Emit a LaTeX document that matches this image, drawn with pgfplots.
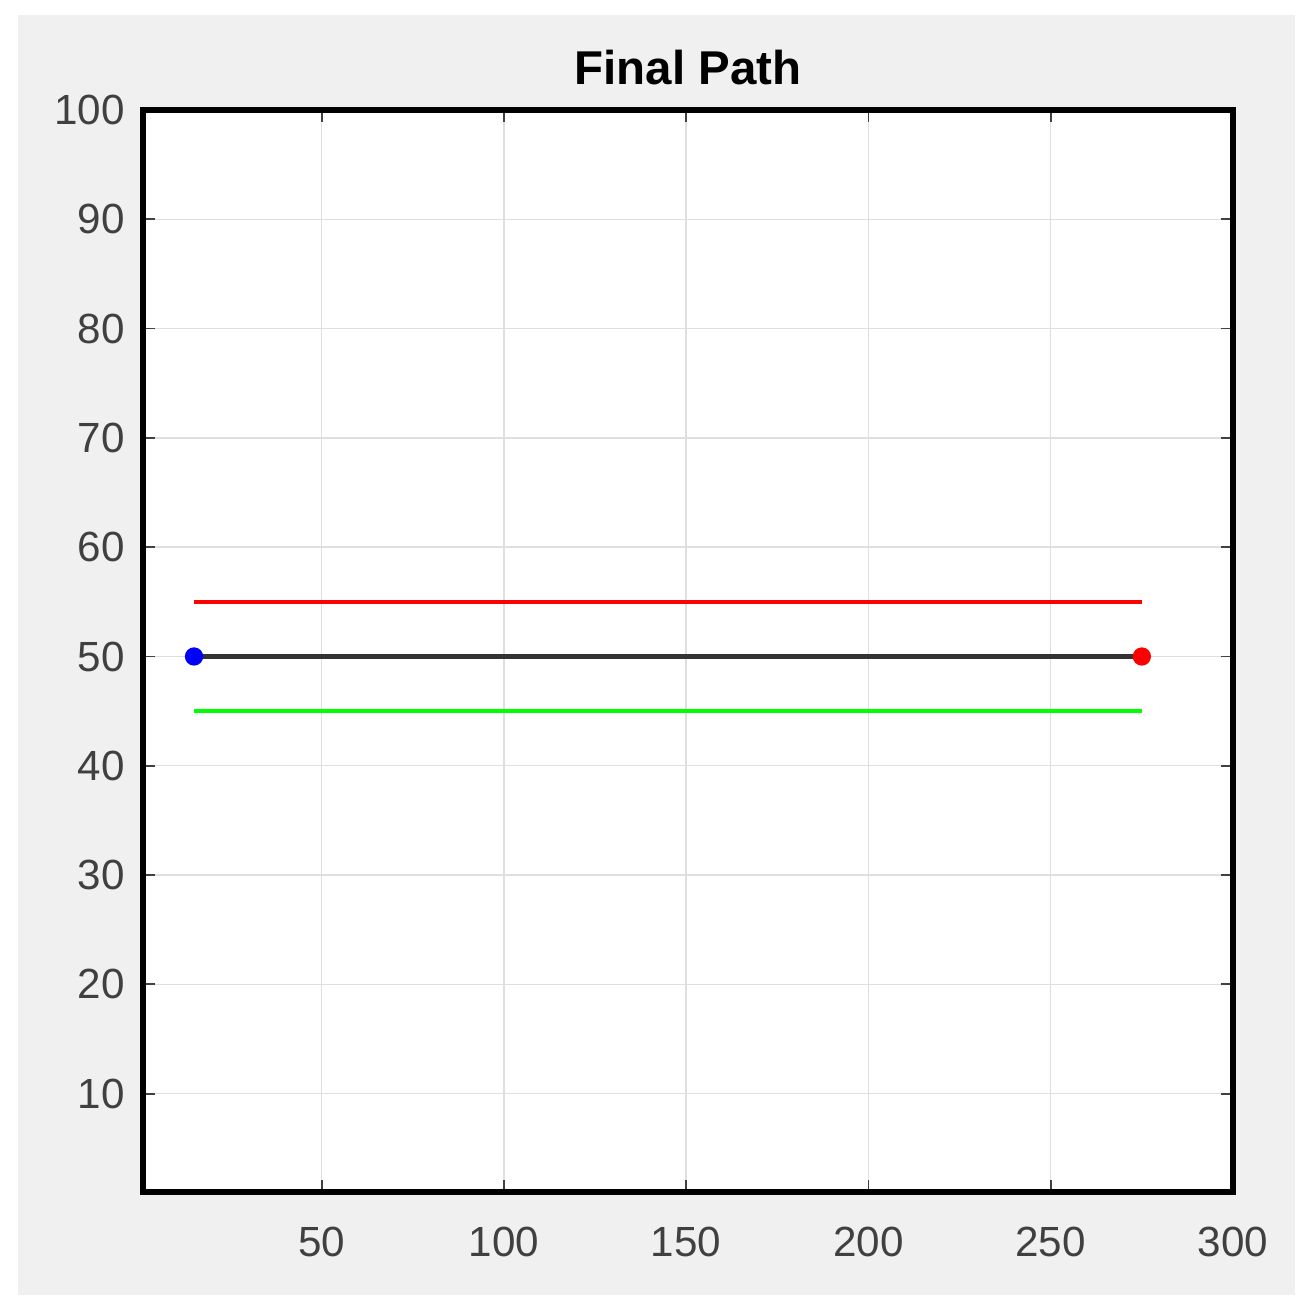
\documentclass[border=0pt]{standalone}
\usepackage{fontspec}
\setmainfont{Liberation Sans}
\usepackage{pgfplots}
\pgfplotsset{compat=1.18}
\definecolor{bgg}{HTML}{F0F0F0}
\definecolor{tickc}{HTML}{404040}
\definecolor{pathc}{HTML}{333333}
\begin{document}
\begin{tikzpicture}
\useasboundingbox (-14.3mm,-12.3mm) rectangle (116.7mm,119.2mm);
\fill[bgg] (-12.5mm,-10.3mm) rectangle (115.2mm,117.7mm);
\begin{axis}[
  at={(0,0)}, anchor=south west,
  scale only axis, width=109mm, height=108.2mm,
  xmin=1, xmax=300, ymin=1, ymax=100,
  xtick={50,100,...,300}, ytick={10,20,...,100},
  axis background/.style={fill=white},
  axis line style={black, line width=1.8pt},
  grid=major, major grid style={gray!25, line width=0.4pt},
  tick align=inside, tick pos=both,
  major tick length=1.2mm,
  tick style={tickc, line width=0.5pt},
  ticklabel style={font=\fontsize{12}{14}\selectfont, text=tickc},
  xticklabel style={yshift=-2.3mm},
  yticklabel style={xshift=-0.6mm},
  /pgf/number format/assume math mode=true,
  title={\textbf{Final Path}},
  title style={font=\fontsize{13.5}{16}\selectfont, yshift=-0.8mm},
]
\addplot[red, line width=1.1pt] coordinates {(15,55) (275,55)};
\addplot[green, line width=1.1pt] coordinates {(15,45) (275,45)};
\addplot[pathc, line width=1.35pt] coordinates {(15,50) (275,50)};
\addplot[only marks, mark=*, mark size=2.4pt, blue, mark options={draw=blue,fill=blue}] coordinates {(15,50)};
\addplot[only marks, mark=*, mark size=2.4pt, red, mark options={draw=red,fill=red}] coordinates {(275,50)};
\end{axis}
\end{tikzpicture}
\end{document}
